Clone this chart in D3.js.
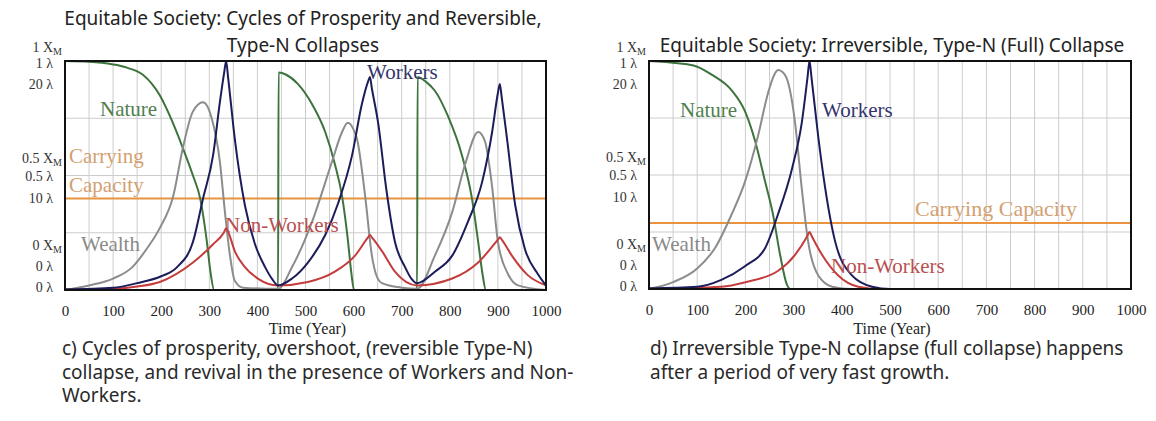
<!DOCTYPE html>
<html>
<head>
<meta charset="utf-8">
<script src="https://cdn.jsdelivr.net/npm/d3@7"></script>
<style>
  body { margin: 0; background: #fff; }
  svg { display: block; }
</style>
</head>
<body>
<div id="chart"></div>
<script>
// x ticks / y tick label stacks
const years = d3.range(0, 1001, 100);
const yTicks = [1, 0.5, 0];
const chiLabels = ["1", "0.5", "0"];
const lambdaLabels = ["1 λ", "0.5 λ", "0 λ"];
const lambda2Labels = ["20 λ", "10 λ", "0 λ"];

// panel c) series, [year, fraction of axis]
const natureC = [[0,1],[50,0.997],[100,0.985],[130,0.97],[162,0.94],[197,0.85],[218,0.76],[245,0.62],[266,0.5],[281,0.4],[295,0.21],[303,0.07],[310,0],
  [443,0],[444,0.95],[460,0.94],[484,0.9],[514,0.81],[541,0.69],[561,0.55],[576,0.41],[588,0.22],[595,0.08],[601,0],
  [732,0],[733,0.93],[750,0.91],[769,0.87],[796,0.76],[825,0.59],[846,0.4],[859,0.21],[868,0.07],[875,0],[1000,0]];
const wealthC = [[0,0],[50,0.02],[100,0.05],[140,0.1],[170,0.18],[197,0.27],[225,0.41],[245,0.62],[266,0.78],[287,0.82],[305,0.75],[322,0.56],[333,0.33],[343,0.15],[353,0.04],[370,0.01],[443,0.005],
  [472,0.1],[514,0.3],[555,0.56],[576,0.69],[588,0.73],[600,0.7],[607,0.66],[624,0.41],[638,0.15],[648,0.06],[659,0.03],[700,0.01],[732,0.005],
  [769,0.15],[805,0.34],[832,0.55],[859,0.69],[873,0.65],[888,0.45],[900,0.21],[921,0.07],[942,0.02],[1000,0]];
const workersC = [[0,0.003],[100,0.01],[150,0.03],[200,0.06],[233,0.1],[266,0.21],[287,0.4],[308,0.59],[322,0.82],[331,0.95],[335,1],[339,0.93],[353,0.66],[374,0.37],[395,0.2],[416,0.1],[430,0.05],[443,0.02],
  [472,0.05],[505,0.12],[541,0.24],[568,0.38],[597,0.59],[617,0.81],[630,0.91],[634,0.93],[638,0.88],[651,0.73],[668,0.44],[686,0.21],[707,0.1],[720,0.05],[732,0.03],
  [769,0.08],[805,0.15],[838,0.3],[867,0.47],[888,0.69],[900,0.86],[904,0.9],[908,0.84],[919,0.66],[936,0.37],[956,0.18],[983,0.07],[1000,0.02]];
const nonWorkersC = [[0,0],[100,0.005],[150,0.015],[197,0.035],[266,0.12],[308,0.2],[330,0.25],[335,0.27],[340,0.25],[353,0.17],[374,0.1],[401,0.05],[443,0.02],
  [505,0.035],[561,0.08],[603,0.15],[630,0.23],[634,0.24],[638,0.23],[659,0.17],[686,0.08],[732,0.02],
  [805,0.05],[859,0.12],[900,0.22],[904,0.23],[908,0.22],[929,0.15],[962,0.065],[1000,0.02]];
const capacityC = 0.40;

// panel d) series
const natureD = [[0,1],[60,0.99],[100,0.975],[130,0.94],[172,0.87],[199,0.78],[220,0.65],[241,0.47],[257,0.33],[272,0.15],[286,0.02],[293,0],[1000,0]];
const wealthD = [[0,0],[50,0.03],[100,0.09],[137,0.18],[172,0.33],[199,0.47],[226,0.67],[247,0.86],[260,0.94],[268,0.96],[278,0.95],[288,0.91],[303,0.73],[317,0.44],[330,0.21],[351,0.06],[380,0.01],[420,0],[1000,0]];
const workersD = [[0,0.003],[100,0.01],[150,0.04],[199,0.1],[241,0.18],[268,0.33],[297,0.53],[317,0.73],[329,0.93],[333,1],[337,0.93],[351,0.67],[365,0.45],[386,0.21],[421,0.06],[463,0.01],[500,0],[1000,0]];
const nonWorkersD = [[0,0],[150,0.01],[200,0.03],[268,0.08],[303,0.15],[328,0.23],[333,0.25],[338,0.23],[359,0.15],[392,0.06],[434,0.01],[480,0],[1000,0]];
const capacityD = 0.29;

const W = 1156, H = 421;
const svg = d3.select("#chart").append("svg")
  .attr("width", W)
  .attr("height", H);

const col = {
  nature: "#3d733d", wealth: "#8c8c8c", workers: "#1c1c5a",
  nonWorkers: "#c43c3c", capacity: "#e8933f", grid: "#cccccc"
};
const labCol = {
  nature: "#4f7f4f", wealth: "#8a8a8a", workers: "#34346c",
  nonWorkers: "#b95050", capacity: "#d3a070"
};
const serif = "'Liberation Serif', 'Times New Roman', serif";
const sans = "'Noto Sans', 'Open Sans', sans-serif";

function drawPanel(p) {
  const x = d3.scaleLinear().domain([0, 1000]).range([p.left, p.right]);
  const y = d3.scaleLinear().domain([0, 1]).range([p.bottom, p.top]);
  const g = svg.append("g");

  // grid
  g.selectAll(".vg").data(d3.range(50, 1000, 50)).enter().append("line")
    .attr("x1", d => x(d)).attr("x2", d => x(d))
    .attr("y1", p.top).attr("y2", p.bottom)
    .attr("stroke", col.grid).attr("stroke-width", 1);
  g.selectAll(".hg").data([0.25, 0.5, 0.75]).enter().append("line")
    .attr("x1", p.left).attr("x2", p.right)
    .attr("y1", d => y(d)).attr("y2", d => y(d))
    .attr("stroke", col.grid).attr("stroke-width", 1);

  // carrying capacity
  g.append("line")
    .attr("x1", p.left).attr("x2", p.right)
    .attr("y1", y(p.capacity)).attr("y2", y(p.capacity))
    .attr("stroke", col.capacity).attr("stroke-width", 2);

  const line = d3.line()
    .x(d => x(d[0]))
    .y(d => y(d[1]))
    .curve(d3.curveMonotoneX);

  [["nature", p.nature], ["wealth", p.wealth], ["nonWorkers", p.nonWorkers], ["workers", p.workers]]
    .forEach(([k, data]) => {
      g.append("path")
        .attr("d", line(data))
        .attr("fill", "none")
        .attr("stroke", col[k])
        .attr("stroke-width", 2)
        .attr("stroke-linejoin", "round");
    });

  // frame
  g.append("rect")
    .attr("x", p.left).attr("y", p.top)
    .attr("width", p.right - p.left).attr("height", p.bottom - p.top)
    .attr("fill", "none").attr("stroke", "#111").attr("stroke-width", 2);

  // x axis
  const ax = g.append("g")
    .attr("transform", `translate(0,${p.bottom})`)
    .call(d3.axisBottom(x).tickValues(years).tickFormat(d3.format("d")).tickSize(0).tickPadding(15));
  ax.select(".domain").remove();
  ax.selectAll("text")
    .attr("font-family", serif).attr("font-size", 15).attr("fill", "#222");

  g.append("text")
    .attr("x", (p.left + p.right) / 2 + 2).attr("y", 334)
    .attr("text-anchor", "middle")
    .attr("font-family", serif).attr("font-size", 16).attr("fill", "#222")
    .text("Time (Year)");

  // y label stacks
  const offs = [[-14, 2, 23], [-18, 0, 22], [-45, -24, -3]];
  yTicks.forEach((v, i) => {
    const yy = y(v);
    const t = g.append("text")
      .attr("x", p.left - 3).attr("y", yy + offs[i][0] + 5)
      .attr("text-anchor", "end")
      .attr("font-family", serif).attr("font-size", 14).attr("fill", "#333");
    t.append("tspan").text(chiLabels[i] + " X");
    t.append("tspan").attr("font-size", 10).attr("dy", 3).text("M");
    [lambdaLabels[i], lambda2Labels[i]].forEach((s, j) => {
      g.append("text")
        .attr("x", p.left - 12).attr("y", yy + offs[i][j + 1] + 5)
        .attr("text-anchor", "end")
        .attr("font-family", serif).attr("font-size", 14).attr("fill", "#333")
        .text(s);
    });
  });

  // series labels
  p.labels.forEach(l => {
    g.append("text")
      .attr("x", l.x).attr("y", l.y)
      .attr("font-family", serif).attr("font-size", l.fs || 21)
      .attr("fill", labCol[l.k])
      .text(l.t);
  });

  // title
  p.title.forEach((s, i) => {
    g.append("text")
      .attr("x", p.titleX).attr("y", p.titleY + i * 27)
      .attr("text-anchor", "middle")
      .attr("font-family", sans).attr("font-size", 19).attr("fill", "#222")
      .text(s);
  });

  // caption
  p.caption.forEach((s, i) => {
    g.append("text")
      .attr("x", p.capX).attr("y", 355 + i * 23.5)
      .attr("font-family", sans).attr("font-size", 19).attr("fill", "#2a2a2a")
      .text(s);
  });
}

drawPanel({
  left: 65, right: 546, top: 61, bottom: 290,
  nature: natureC, wealth: wealthC, workers: workersC, nonWorkers: nonWorkersC, capacity: capacityC,
  title: ["Equitable Society: Cycles of Prosperity and Reversible,", "Type-N Collapses"],
  titleX: 303, titleY: 25,
  caption: ["c) Cycles of prosperity, overshoot, (reversible Type-N)",
            "collapse, and revival in the presence of Workers and Non-",
            "Workers."],
  capX: 62,
  labels: [
    {k: "nature", t: "Nature", x: 100, y: 116},
    {k: "capacity", t: "Carrying", x: 69, y: 163},
    {k: "capacity", t: "Capacity", x: 69, y: 192},
    {k: "wealth", t: "Wealth", x: 81, y: 251},
    {k: "nonWorkers", t: "Non-Workers", x: 225, y: 232},
    {k: "workers", t: "Workers", x: 367, y: 79}
  ]
});

drawPanel({
  left: 649, right: 1131, top: 61, bottom: 289,
  nature: natureD, wealth: wealthD, workers: workersD, nonWorkers: nonWorkersD, capacity: capacityD,
  title: ["Equitable Society: Irreversible, Type-N (Full) Collapse"],
  titleX: 892, titleY: 52,
  caption: ["d) Irreversible Type-N collapse (full collapse) happens",
            "after a period of very fast growth."],
  capX: 650,
  labels: [
    {k: "nature", t: "Nature", x: 680, y: 117},
    {k: "workers", t: "Workers", x: 822, y: 117},
    {k: "capacity", t: "Carrying Capacity", x: 915, y: 216, fs: 22},
    {k: "wealth", t: "Wealth", x: 652, y: 251},
    {k: "nonWorkers", t: "Non-Workers", x: 831, y: 273}
  ]
});
</script>
</body>
</html>
